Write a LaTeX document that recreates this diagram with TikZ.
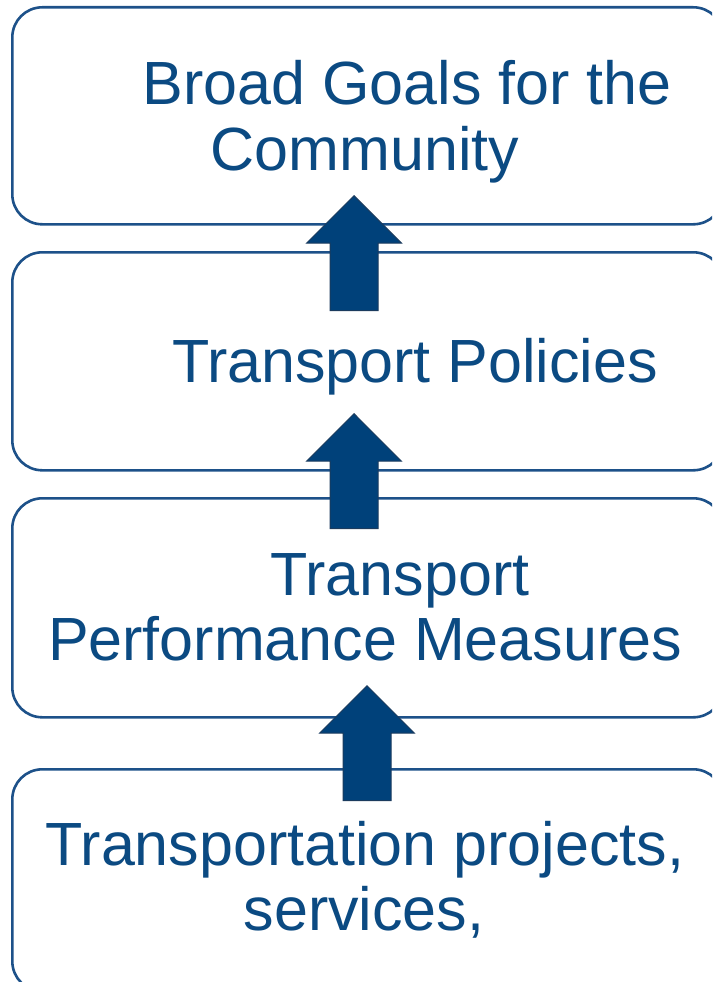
\documentclass[tikz,border=0pt]{standalone}
\usepackage{fontspec}
\setmainfont{Liberation Sans}
\usetikzlibrary{shapes.arrows}
\definecolor{boxblue}{HTML}{1D5189}
\definecolor{arrowblue}{HTML}{00417A}
\definecolor{arrowedge}{HTML}{1B3B5E}
\definecolor{textblue}{HTML}{0B4A82}
\tikzset{
  tierbox/.style={draw=boxblue,line width=2.6pt,rounded corners=30pt,fill=white,
    minimum width=711pt,inner sep=0pt,anchor=north west},
  tiertext/.style={anchor=base,text=textblue,inner sep=0pt,font=\fontsize{61}{66}\selectfont},
  uparrow/.style={single arrow,shape border rotate=90,fill=arrowblue,draw=arrowedge,line width=1pt,
    minimum height=115pt,inner sep=23.5pt,single arrow head extend=23.5pt,
    single arrow head indent=0pt,anchor=tip}
}
\begin{document}
\begin{tikzpicture}[x=1pt,y=-1pt]
  \useasboundingbox (0,0) rectangle (712,982);
  \clip (0,0) rectangle (712,982);
  % the four tiers
  \node[tierbox,minimum height=217pt] (goals) at (11,6) {};
  \node[tierbox,minimum height=218pt] (policies) at (11,251) {};
  \node[tierbox,minimum height=219pt] (measures) at (11,497) {};
  \node[tierbox,minimum height=222pt] (projects) at (11,768) {};
  % texts
  \node[tiertext] (goalsA) at (407,104) {Broad Goals for the};
  \node[tiertext] (goalsB) at (365,170) {Community};
  \node[tiertext] (policiesA) at (415,382) {Transport Policies};
  \node[tiertext] (measuresA) at (400,595) {Transport};
  \node[tiertext] (measuresB) at (365,660) {Performance Measures};
  \node[tiertext] (projectsA) at (365,865) {Transportation projects,};
  \node[tiertext] (projectsB) at (364,930) {services,};
  % block arrows between the tiers
  \node[uparrow] (upA) at (354,195) {};
  \node[uparrow] (upB) at (354,413) {};
  \node[uparrow] (upC) at (367,685) {};
\end{tikzpicture}
\end{document}
